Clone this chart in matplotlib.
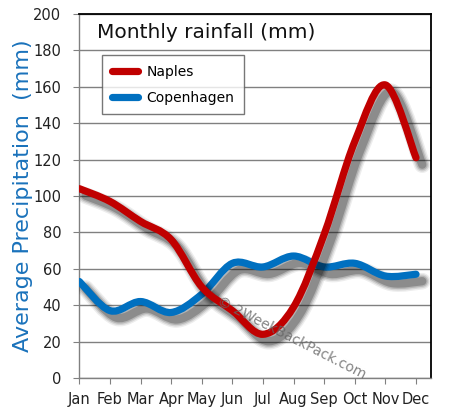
import matplotlib
matplotlib.use("Agg")
import matplotlib.pyplot as plt
from matplotlib.path import Path
from matplotlib.patches import PathPatch
from matplotlib.lines import Line2D
import matplotlib.patheffects as pe
import numpy as np

months = ["Jan", "Feb", "Mar", "Apr", "May", "Jun", "Jul", "Aug", "Sep", "Oct", "Nov", "Dec"]
naples = [104, 97, 86, 76, 50, 37, 24, 39, 79, 130, 161, 121]
copenhagen = [53, 37, 42, 36, 46, 63, 61, 67, 61, 63, 56, 57]
yticks = [0, 20, 40, 60, 80, 100, 120, 140, 160, 180, 200]

RED = "#c00000"
BLUE = "#0070c0"

fig = plt.figure(figsize=(4.51, 4.18), dpi=100)
ax = fig.add_axes([0.176, 0.0957, 0.779, 0.871])


def smooth_path(xs, ys):
    pts = np.column_stack([xs, ys]).astype(float)
    n = len(pts)
    verts = [pts[0]]
    codes = [Path.MOVETO]
    for i in range(n - 1):
        p0 = pts[i - 1] if i > 0 else pts[i]
        p1 = pts[i]
        p2 = pts[i + 1]
        p3 = pts[i + 2] if i + 2 < n else pts[i + 1]
        c1 = p1 + (p2 - p0) / 6.0
        c2 = p2 - (p3 - p1) / 6.0
        verts += [c1, c2, p2]
        codes += [Path.CURVE4] * 3
    return Path(np.array(verts), codes)


def shadow_effects():
    effs = []
    for lw, a in [(12, 0.07), (10, 0.10), (8, 0.15), (6, 0.22)]:
        effs.append(pe.Stroke(offset=(4.5, -5), linewidth=lw, foreground="#000000", alpha=a))
    effs.append(pe.Normal())
    return effs


x = np.arange(len(months))
for vals, col in [(copenhagen, BLUE), (naples, RED)]:
    patch = PathPatch(smooth_path(x, vals), fill=False, edgecolor=col, linewidth=5.2,
                      capstyle="round", joinstyle="round", zorder=3)
    patch.set_path_effects(shadow_effects())
    ax.add_patch(patch)

ax.set_xlim(0, 11.48)
ax.set_ylim(0, 200)
ax.set_xticks(x)
ax.set_xticklabels(months)
ax.set_yticks(yticks)
ax.yaxis.grid(True, color="#808080", linewidth=1.0)
ax.set_axisbelow(True)
ax.tick_params(axis="both", direction="out", length=4, color="#808080", labelsize=10.5,
               labelcolor="#222222")
ax.tick_params(axis="y", pad=9)
ax.tick_params(axis="x", pad=6)
for s in ["left", "bottom"]:
    ax.spines[s].set_color("#808080")
    ax.spines[s].set_linewidth(1.0)
for s in ["top", "right"]:
    ax.spines[s].set_color("#000000")
    ax.spines[s].set_linewidth(1.3)

ax.set_ylabel("Average Precipitation  (mm)", color="#1a72bb", fontsize=16, labelpad=0)

ax.text(0.05, 0.948, "Monthly rainfall (mm)", transform=ax.transAxes, fontsize=14.5,
        ha="left", va="center", color="#111111")

handles = [Line2D([], [], color=RED, lw=5.2, solid_capstyle="round"),
           Line2D([], [], color=BLUE, lw=5.2, solid_capstyle="round")]
leg = ax.legend(handles, ["Naples", "Copenhagen"], loc="upper left",
                bbox_to_anchor=(0.065, 0.887), fontsize=10, frameon=True,
                fancybox=False, handlelength=1.9, borderpad=0.7, labelspacing=0.85,
                handletextpad=0.6, borderaxespad=0)
leg.get_frame().set_edgecolor("#555555")
leg.get_frame().set_linewidth(1.0)

ax.text(0.605, 0.11, "\u00a9 2WeekBackPack.com", transform=ax.transAxes, fontsize=10,
        rotation=-27, color="#666666", alpha=0.8, ha="center", va="center", zorder=4)

fig.savefig("out.png", dpi=100)
